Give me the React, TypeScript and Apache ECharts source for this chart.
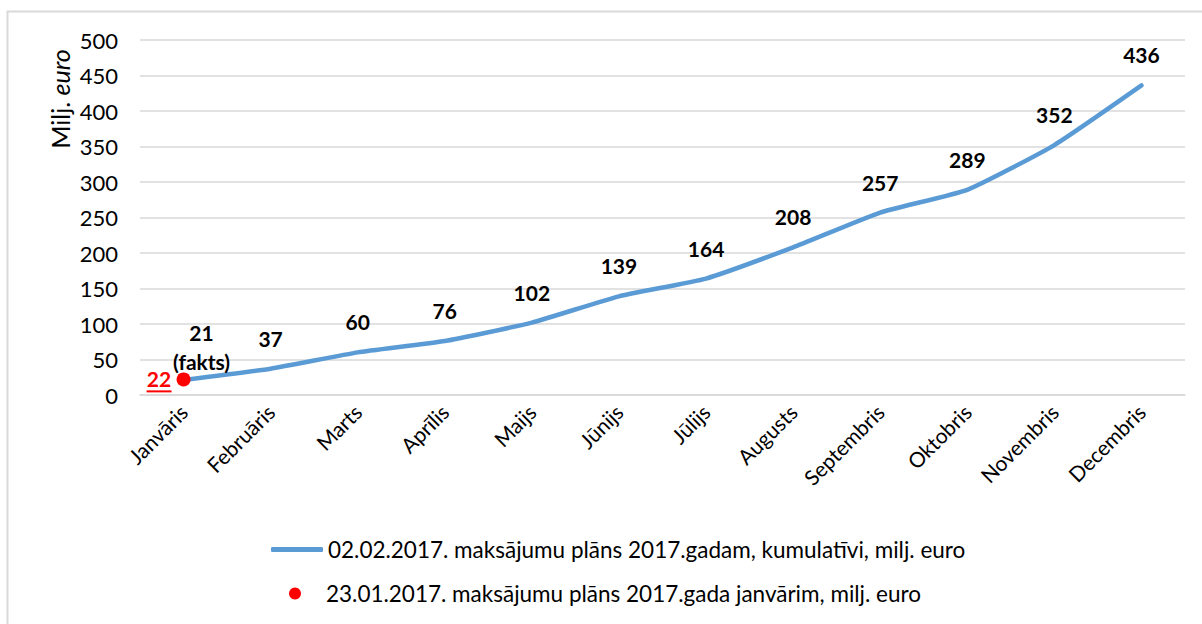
import React, { useEffect, useRef } from "react";
import * as echarts from "echarts";

const months = ["Janvāris", "Februāris", "Marts", "Aprīlis", "Maijs", "Jūnijs", "Jūlijs", "Augusts", "Septembris", "Oktobris", "Novembris", "Decembris"];
const planValues = [21, 37, 60, 76, 102, 139, 164, 208, 257, 289, 352, 436];
const janPlanValue = [22];
const yTicks = { min: 0, max: 500, interval: 50 };
const seriesNames = [
  "02.02.2017. maksājumu plāns 2017.gadam, kumulatīvi, milj. euro",
  "23.01.2017. maksājumu plāns 2017.gada janvārim, milj. euro",
];

const FONT = "Lato";

export default function App() {
  const ref = useRef<HTMLDivElement>(null);
  useEffect(() => {
    if (!ref.current) return;
    const chart = echarts.init(ref.current, undefined, { renderer: "svg" });
    const lineData = planValues.map((v, i) =>
      i === 0
        ? {
            value: v,
            label: {
              formatter: "{b|21}\n{b|(fakts)}",
              distance: 4,
              offset: [18, 0],
            },
          }
        : v
    );
    chart.setOption({
      animation: false,
      textStyle: { fontFamily: FONT },
      graphic: [
        {
          type: "rect",
          shape: { x: 7.5, y: 11.5, width: 1220, height: 640 },
          style: { fill: "none", stroke: "#d9d9d9", lineWidth: 2 },
          silent: true,
        },
        {
          type: "text",
          x: 60,
          y: 99,
          rotation: Math.PI / 2,
          style: {
            text: "{a|Milj. }{b|euro}",
            align: "center",
            verticalAlign: "middle",
            rich: {
              a: { fontFamily: FONT, fontSize: 25, fill: "#000" },
              b: { fontFamily: FONT, fontSize: 25, fontStyle: "italic", fill: "#000" },
            },
          },
        },
      ],
      grid: { left: 140, right: 17, top: 40, bottom: 229 },
      legend: [
        {
          data: [{ name: seriesNames[0], icon: "roundRect" }],
          orient: "vertical",
          left: 266,
          top: 533,
          itemWidth: 52,
          itemHeight: 5,
          itemGap: 8,
          textStyle: { fontFamily: FONT, fontSize: 22.5, color: "#000" },
        },
        {
          data: [seriesNames[1]],
          orient: "vertical",
          left: 284,
          top: 577,
          itemWidth: 52,
          itemHeight: 12,
          itemGap: 8,
          textStyle: { fontFamily: FONT, fontSize: 22.5, color: "#000" },
        },
      ],
      xAxis: {
        type: "category",
        data: months,
        boundaryGap: true,
        axisLine: { show: true, lineStyle: { color: "#d9d9d9", width: 1.5 } },
        axisTick: { show: false },
        axisLabel: {
          rotate: 45,
          margin: 13,
          interval: 0,
          fontFamily: FONT,
          fontSize: 21,
          color: "#000",
        },
      },
      yAxis: {
        type: "value",
        min: yTicks.min,
        max: yTicks.max,
        interval: yTicks.interval,
        axisLine: { show: false },
        axisTick: { show: false },
        splitLine: { lineStyle: { color: "#d9d9d9", width: 1.5 } },
        axisLabel: { margin: 22, fontFamily: FONT, fontSize: 22, color: "#000" },
      },
      series: [
        {
          name: seriesNames[0],
          type: "line",
          data: lineData,
          smooth: 0.15,
          symbol: "circle",
          symbolSize: 0,
          showSymbol: true,
          lineStyle: { color: "#5b9bd5", width: 4.5, cap: "round" },
          itemStyle: { color: "#5b9bd5" },
          emphasis: { disabled: true },
          label: {
            show: true,
            position: "top",
            distance: 16,
            fontFamily: FONT,
            fontSize: 21,
            fontWeight: "bold",
            color: "#000",
            lineHeight: 29,
            rich: {
              b: { fontFamily: FONT, fontSize: 21, fontWeight: "bold", color: "#000", lineHeight: 29 },
            },
          },
          z: 2,
        },
        {
          name: seriesNames[1],
          type: "scatter",
          data: janPlanValue.map((v) => [months[0], v]),
          symbol: "circle",
          symbolSize: 14,
          itemStyle: { color: "#ff0000", opacity: 1 },
          emphasis: { disabled: true },
          label: {
            show: true,
            position: "left",
            distance: 5,
            fontWeight: "bold",
            formatter: (p: any) => `{a|${p.value[1]}}\n{u| }`,
            rich: {
              a: { fontFamily: FONT, fontSize: 21, fontWeight: "bold", color: "#ff0000", lineHeight: 24, align: "center" },
              u: { fontSize: 1, height: 2, width: 25, backgroundColor: "#ff0000", lineHeight: 2 },
            },
          },
          z: 3,
        },
      ],
    });
    return () => chart.dispose();
  }, []);
  return (
    <div
      ref={ref}
      style={{ position: "absolute", left: 0, top: 0, width: 1202, height: 624 }}
    />
  );
}
